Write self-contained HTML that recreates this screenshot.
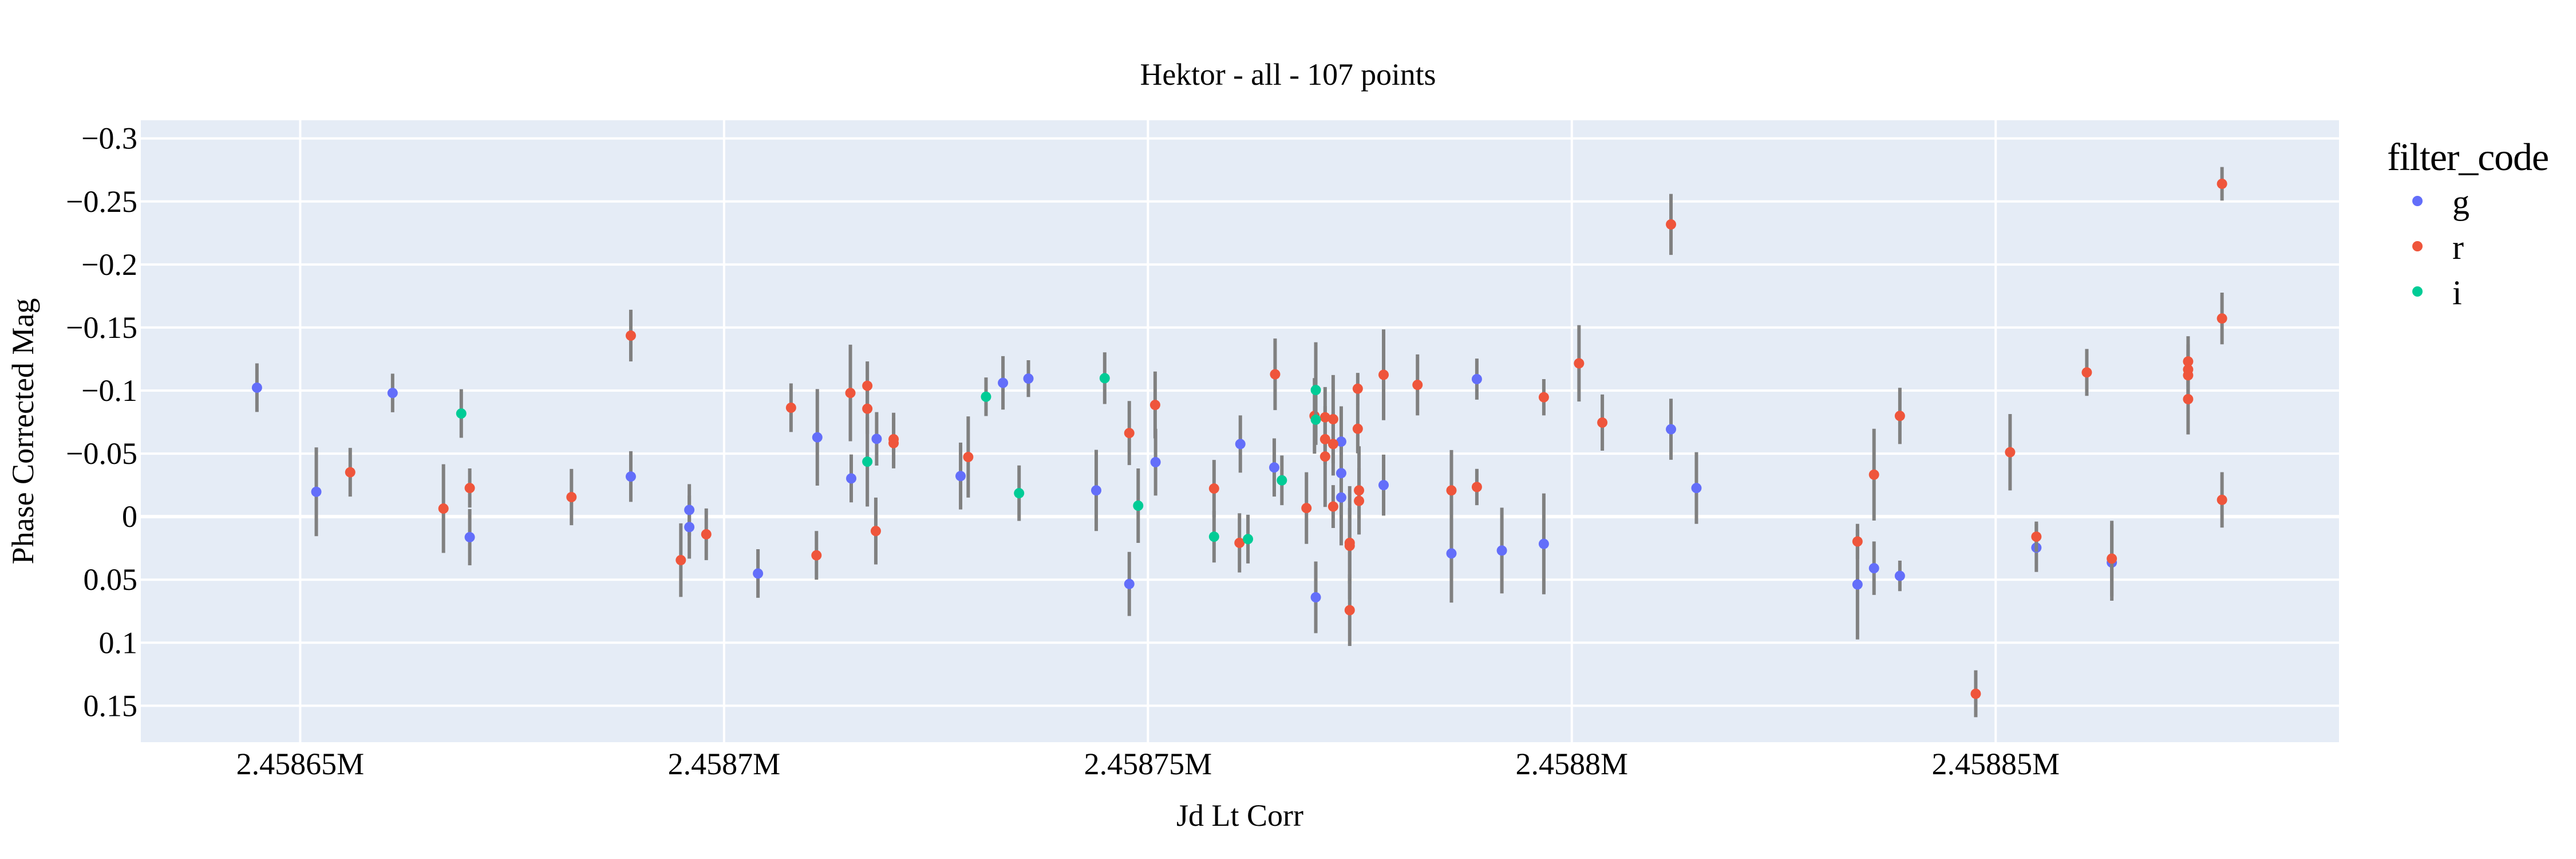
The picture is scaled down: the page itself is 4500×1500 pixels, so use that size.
<!DOCTYPE html>
<html><head><meta charset="utf-8"><style>
html,body{margin:0;padding:0;background:#fff;}
svg{display:block;font-family:"Liberation Serif",serif;}
</style></head><body>
<svg id="chart" width="4500" height="1500" viewBox="0 0 4500 1500" xmlns="http://www.w3.org/2000/svg">
<rect x="0" y="0" width="4500" height="1500" fill="#fff"/>
<rect x="246" y="210" width="3840" height="1086" fill="#E5ECF6"/>
<g id="grid"></g>
<g id="marks"></g>
<g id="axes"></g>
<text x="2250" y="148" font-size="54" text-anchor="middle" textLength="517">Hektor - all - 107 points</text>
<text x="2166" y="1442" font-size="54" text-anchor="middle">Jd Lt Corr</text>
<text transform="translate(58,753) rotate(-90)" font-size="54" text-anchor="middle">Phase Corrected Mag</text>
<g>
<text x="4170" y="297" font-size="68" textLength="283">filter_code</text>
<g><circle cx="4223" cy="351" r="9" fill="#636efa"/><text x="4284" y="373" font-size="60">g</text></g>
<g><circle cx="4223" cy="430" r="9" fill="#EF553B"/><text x="4284" y="452" font-size="60">r</text></g>
<g><circle cx="4223" cy="509" r="9" fill="#00cc96"/><text x="4284" y="531" font-size="60">i</text></g>
</g>
</svg>
<script>
const xTicks = [2458650, 2458700, 2458750, 2458800, 2458850];
const xTickLabels = ["2.45865M", "2.4587M", "2.45875M", "2.4588M", "2.45885M"];
const yTicks = [-0.3, -0.25, -0.2, -0.15, -0.1, -0.05, 0, 0.05, 0.1, 0.15];
const yTickLabels = ["\u22120.3", "\u22120.25", "\u22120.2", "\u22120.15", "\u22120.1", "\u22120.05", "0", "0.05", "0.1", "0.15"];
const filters = ["g","g","r","g","r","i","r","g","r","r","g","r","g","g","r","g","r","r","g","r","g",
"r","r","i","g","r","r","r","g","r","i","g","g","i","g","i","r","g","i","r","g","r","i","r","g","i","r","g","i","r","i","r","i","g","r","r","r","r","r","r","g","g","g","r","r","r","r","r","r","r","r","g","r","r","g","g","r","g","r","g","r","r",
"r","g","g","r","g","r","g","r","g","r","r","r","g","r","r","g","r","r","r","r","r","r","r"];
const jd = [2458644.9,2458651.9,2458655.9,2458660.9,2458666.9,2458669.0,2458670.0,2458670.0,2458682.0,2458689.0,2458689.0,2458694.9,2458695.9,2458695.9,2458697.9,2458704.0,2458707.9,2458710.9,2458711.0,2458714.9,2458715.0,
2458716.9,2458716.9,2458716.9,2458718.0,2458717.9,2458720.0,2458720.0,2458727.9,2458728.8,2458730.9,2458732.9,2458735.9,2458734.8,2458743.9,2458744.9,2458747.8,2458747.8,2458748.85,2458750.85,2458750.9,2458757.8,2458757.8,2458760.8,2458760.9,2458761.8,2458765.0,2458764.9,2458765.8,2458768.7,2458769.8,2458769.65,2458769.8,2458769.8,2458770.9,2458770.9,2458770.9,2458771.85,2458771.85,2458771.85,2458772.8,2458772.8,2458772.8,2458773.8,2458773.8,2458773.8,2458774.75,2458774.75,2458774.9,2458774.9,2458777.8,2458777.8,2458781.8,2458785.8,2458785.8,2458788.8,2458788.8,2458791.75,2458796.7,2458796.7,2458800.85,2458803.6,
2458811.7,2458811.7,2458814.7,2458833.7,2458833.7,2458835.65,2458835.65,2458838.7,2458838.7,2458847.65,2458851.7,2458854.8,2458854.8,2458860.75,2458863.7,2458863.7,2458872.7,2458872.7,2458872.7,2458872.7,2458876.7,2458876.7,2458876.7];
const mag = [-0.1023,-0.0197,-0.0352,-0.0981,-0.0064,-0.0818,-0.0227,0.0163,-0.0155,-0.1436,-0.0318,0.0345,-0.0053,0.0083,0.0140,0.0451,-0.0864,0.0307,-0.0629,-0.0981,-0.0303,
-0.1038,-0.0856,-0.0436,-0.0617,0.0114,-0.0614,-0.0583,-0.0322,-0.0473,-0.0951,-0.1061,-0.1095,-0.0186,-0.0208,-0.1098,-0.0663,0.0534,-0.0087,-0.0886,-0.0432,-0.0223,0.0159,0.0208,-0.0576,0.0178,-0.1129,-0.0390,-0.0288,-0.0068,-0.1004,-0.0799,-0.0769,0.0640,-0.0788,-0.0614,-0.0477,-0.0773,-0.0576,-0.0080,-0.0595,-0.0345,-0.0152,0.0208,0.0231,0.0742,-0.1015,-0.0697,-0.0208,-0.0125,-0.1125,-0.0250,-0.1045,-0.0208,0.0292,-0.1091,-0.0235,0.0269,-0.0947,0.0216,-0.1216,-0.0746,
-0.2318,-0.0693,-0.0227,0.0197,0.0538,-0.0333,0.0409,-0.0799,0.0470,0.1405,-0.0511,0.0159,0.0246,-0.1144,0.0333,0.0364,-0.1231,-0.1167,-0.1121,-0.0932,-0.2640,-0.1572,-0.0133];
const magErr = [0.0193,0.0352,0.0193,0.0153,0.0352,0.0193,0.0155,0.0223,0.0223,0.0205,0.0201,0.0292,0.0205,0.025,0.0205,0.0193,0.0193,0.0193,0.0383,0.0383,0.019,
0.0193,0.02,0.0356,0.0212,0.0265,0.021,0.02,0.0265,0.0322,0.0153,0.0212,0.0146,0.022,0.0322,0.0205,0.0254,0.0254,0.0295,0.0265,0.0265,0.0227,0.0205,0.0235,0.0227,0.0193,0.0284,0.0231,0.0197,0.0284,0.0379,0.03,0.02,0.0284,0.024,0.02,0.04,0.035,0.025,0.017,0.028,0.022,0.038,0.045,0.03,0.0284,0.0125,0.0195,0.035,0.026,0.036,0.0242,0.0242,0.032,0.039,0.0163,0.0144,0.034,0.0144,0.040,0.0303,0.0223,
0.0242,0.0242,0.0284,0.014,0.0436,0.0364,0.0212,0.0223,0.0121,0.0186,0.0303,0.012,0.0193,0.0186,0.03,0.0303,0.02,0.02,0.02,0.028,0.0133,0.0205,0.022];

const NS = "http://www.w3.org/2000/svg";
const X0 = 246, X1 = 4086, Y0 = 210, Y1 = 1296;
const xMin = 2458631.2, xMax = 2458890.5, yMin = -0.3144, yMax = 0.1789;
function xs(v){ return X0 + (v - xMin) / (xMax - xMin) * (X1 - X0); }
function ys(v){ return Y0 + (v - yMin) / (yMax - yMin) * (Y1 - Y0); }
const colors = {g:"#636efa", r:"#EF553B", i:"#00cc96"};
function mk(tag, attrs, parent){ const e = document.createElementNS(NS, tag); for (const k in attrs) e.setAttribute(k, attrs[k]); parent.appendChild(e); return e; }

const grid = document.getElementById("grid");
const axes = document.getElementById("axes");
xTicks.forEach((t, k) => {
  const gl = mk("line", {x1: xs(t), x2: xs(t), y1: Y0, y2: Y1, stroke: "#fff", "stroke-width": 4}, grid);
  
  
  const tl = mk("text", {x: xs(t), y: 1352, "font-size": 54, "text-anchor": "middle"}, axes);
  tl.textContent = xTickLabels[k];
  
  
});
yTicks.forEach((t, k) => {
  const gl = mk("line", {x1: X0, x2: X1, y1: ys(t), y2: ys(t), stroke: "#fff", "stroke-width": t === 0 ? 6 : 4}, grid);
  
  
  const tl = mk("text", {x: 240, y: ys(t) + 18, "font-size": 54, "text-anchor": "end"}, axes);
  tl.textContent = yTickLabels[k];
  
  
});

const marks = document.getElementById("marks");
["g","r","i"].forEach(f => {
  for (let k = 0; k < jd.length; k++) {
    if (filters[k] !== f) continue;
    const cx = xs(jd[k]);
    const eb = mk("line", {x1: cx, x2: cx, y1: ys(mag[k] - magErr[k]), y2: ys(mag[k] + magErr[k]), stroke: "#808080", "stroke-width": 6}, marks);
    
    
  }
  for (let k = 0; k < jd.length; k++) {
    if (filters[k] !== f) continue;
    const c = mk("circle", {cx: xs(jd[k]), cy: ys(mag[k]), r: 9, fill: colors[f]}, marks);
    
    
  }
});
</script>
</body></html>
